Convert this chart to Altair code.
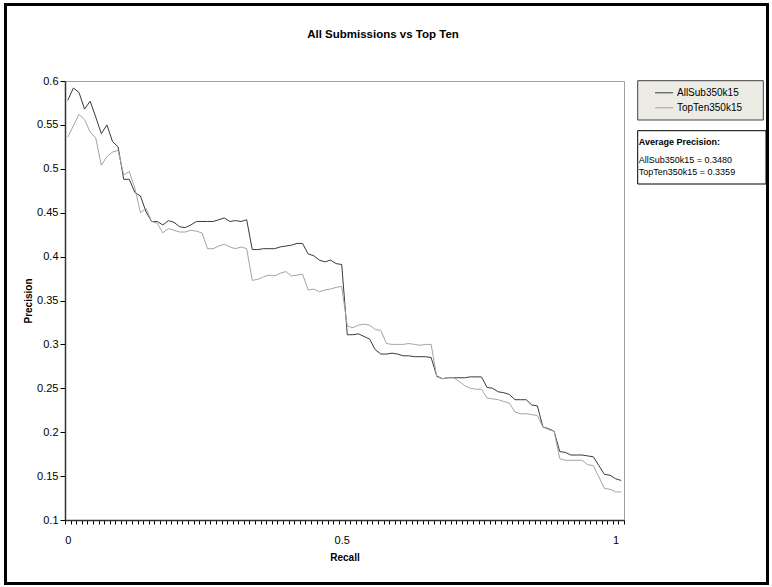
import altair as alt
import pandas as pd

# ---------------- data ----------------
recall = [round((k + 1) / 100, 2) for k in range(100)]

allsub = [
    0.578, 0.592, 0.587, 0.568, 0.577, 0.559, 0.540, 0.550, 0.531, 0.525,
    0.488, 0.488, 0.473, 0.469, 0.451, 0.440, 0.440, 0.436, 0.441, 0.439,
    0.434, 0.433, 0.436, 0.440, 0.440, 0.440, 0.440, 0.442, 0.444, 0.440,
    0.441, 0.440, 0.442, 0.408, 0.408, 0.409, 0.409, 0.409, 0.411, 0.412,
    0.413, 0.415, 0.415, 0.403, 0.401, 0.396, 0.394, 0.396, 0.392, 0.391,
    0.311, 0.311, 0.312, 0.309, 0.306, 0.294, 0.289, 0.289, 0.290, 0.289,
    0.287, 0.287, 0.286, 0.286, 0.286, 0.285, 0.264, 0.261, 0.262, 0.262,
    0.262, 0.262, 0.263, 0.263, 0.263, 0.251, 0.250, 0.246, 0.245, 0.243,
    0.237, 0.237, 0.237, 0.231, 0.230, 0.206, 0.204, 0.201, 0.178, 0.177,
    0.174, 0.174, 0.174, 0.173, 0.172, 0.162, 0.152, 0.151, 0.147, 0.145,
]

topten = [
    0.536, 0.549, 0.562, 0.556, 0.542, 0.535, 0.504, 0.514, 0.519, 0.521,
    0.493, 0.497, 0.478, 0.450, 0.455, 0.440, 0.438, 0.427, 0.432, 0.430,
    0.428, 0.428, 0.430, 0.429, 0.427, 0.409, 0.409, 0.412, 0.414, 0.411,
    0.409, 0.411, 0.409, 0.373, 0.374, 0.377, 0.379, 0.378, 0.381, 0.383,
    0.378, 0.379, 0.380, 0.362, 0.363, 0.360, 0.362, 0.363, 0.365, 0.366,
    0.321, 0.319, 0.322, 0.323, 0.322, 0.317, 0.316, 0.301, 0.300, 0.300,
    0.300, 0.301, 0.300, 0.299, 0.300, 0.300, 0.263, 0.261, 0.262, 0.262,
    0.258, 0.253, 0.250, 0.249, 0.249, 0.239, 0.238, 0.237, 0.235, 0.233,
    0.223, 0.221, 0.221, 0.220, 0.219, 0.206, 0.203, 0.201, 0.170, 0.168,
    0.168, 0.168, 0.168, 0.163, 0.162, 0.149, 0.136, 0.135, 0.132, 0.132,
]

series_names = ["AllSub350k15", "TopTen350k15"]
series_colors = ["#3a3a3a", "#a6a69c"]
y_ticks = [0.1, 0.15, 0.2, 0.25, 0.3, 0.35, 0.4, 0.45, 0.5, 0.55, 0.6]
title_text = "All Submissions vs Top Ten"
avg_header = "Average Precision:"
avg_lines = ["AllSub350k15 = 0.3480", "TopTen350k15 = 0.3359"]

FONT = "Liberation Sans"

rows = []
for name, vals in zip(series_names, [allsub, topten]):
    for r, v in zip(recall, vals):
        rows.append({"Recall": r, "Precision": v, "Series": name})
df = pd.DataFrame(rows)

# category boundaries for tick marks
x_boundaries = [round(r - 0.005, 3) for r in recall] + [1.005]

one = pd.DataFrame({"a": [0]})

label_expr = (
    "abs(datum.value-0.005)<0.001 ? '0' : "
    "abs(datum.value-0.495)<0.001 ? '0.5' : "
    "abs(datum.value-0.985)<0.001 ? '1' : ''"
)

lines = alt.Chart(df).mark_line(strokeWidth=1).encode(
    x=alt.X(
        "Recall:Q",
        scale=alt.Scale(domain=[0.005, 1.005], nice=False, zero=False),
        axis=alt.Axis(
            values=x_boundaries,
            tickSize=4,
            tickColor="black",
            tickWidth=1,
            labelExpr=label_expr,
            labelOffset=2.8,
            labelOverlap=False,
            labelFlush=False,
            labelBound=False,
            labelPadding=10,
            labelFontSize=11,
            title="Recall",
            titleFontSize=10,
            titleFontWeight="bold",
            titleY=37,
            titleBaseline="middle",
            grid=False,
            domainColor="#333333",
            domainWidth=1.5,
        ),
    ),
    y=alt.Y(
        "Precision:Q",
        scale=alt.Scale(domain=[0.1, 0.6], nice=False, zero=False),
        axis=alt.Axis(
            values=y_ticks,
            format=".2~f",
            tickSize=5,
            tickColor="black",
            labelPadding=2,
            labelFontSize=11,
            title="Precision",
            titleFontSize=10,
            titleFontWeight="bold",
            titleX=-37,
            titleY=219.5,
            titleBaseline="middle",
            titleAlign="center",
            grid=False,
            domainColor="#333333",
            domainWidth=1.5,
        ),
    ),
    color=alt.Color(
        "Series:N",
        scale=alt.Scale(domain=series_names, range=series_colors),
        legend=alt.Legend(
            orient="none",
            legendX=589.5,
            legendY=2.3,
            title=None,
            symbolType="stroke",
            symbolSize=324,
            symbolStrokeWidth=1,
            labelFontSize=10,
            labelFont=FONT,
            labelColor="black",
            labelOffset=3.5,
            rowPadding=0,
            padding=0,
            direction="vertical",
        ),
    ),
)

outer = alt.Chart(one).mark_rect(fillOpacity=0, stroke="black", strokeWidth=3).encode(
    x=alt.value(-59.5), x2=alt.value(702.5), y=alt.value(-76.5), y2=alt.value(502.5)
)

legend_box = alt.Chart(one).mark_rect(fill="#ECECE4", stroke="#404040", strokeWidth=1).encode(
    x=alt.value(572.7), x2=alt.value(698.3), y=alt.value(-0.3), y2=alt.value(39)
)

avg_box = alt.Chart(one).mark_rect(fill="white", stroke="black", strokeWidth=1).encode(
    x=alt.value(572.7), x2=alt.value(701), y=alt.value(49.7), y2=alt.value(103)
)

title = alt.Chart(one).mark_text(
    align="center", baseline="middle", font=FONT, fontSize=11.5, fontWeight="bold", color="black"
).encode(x=alt.value(318), y=alt.value(-46), text=alt.value(title_text))

avg_title = alt.Chart(one).mark_text(
    align="left", baseline="middle", font=FONT, fontSize=9, fontWeight="bold", color="black"
).encode(x=alt.value(573.8), y=alt.value(60.7), text=alt.value(avg_header))

avg_t1 = alt.Chart(one).mark_text(
    align="left", baseline="middle", font=FONT, fontSize=9, color="black"
).encode(x=alt.value(573.8), y=alt.value(79), text=alt.value(avg_lines[0]))

avg_t2 = alt.Chart(one).mark_text(
    align="left", baseline="middle", font=FONT, fontSize=9, color="black"
).encode(x=alt.value(573.8), y=alt.value(91.3), text=alt.value(avg_lines[1]))

chart = alt.layer(
    outer, legend_box, avg_box, lines, title, avg_title, avg_t1, avg_t2
).properties(
    width=559,
    height=439,
    padding={"left": 65, "top": 81, "right": 148, "bottom": 67},
    autosize=alt.AutoSizeParams(type="none"),
    background="white",
).configure_view(
    stroke="#a0a0a0", strokeWidth=1
).configure_axis(
    labelFont=FONT, titleFont=FONT, labelColor="black", titleColor="black"
)

chart.save("out.html", embed_options={"renderer": "svg", "actions": False})
